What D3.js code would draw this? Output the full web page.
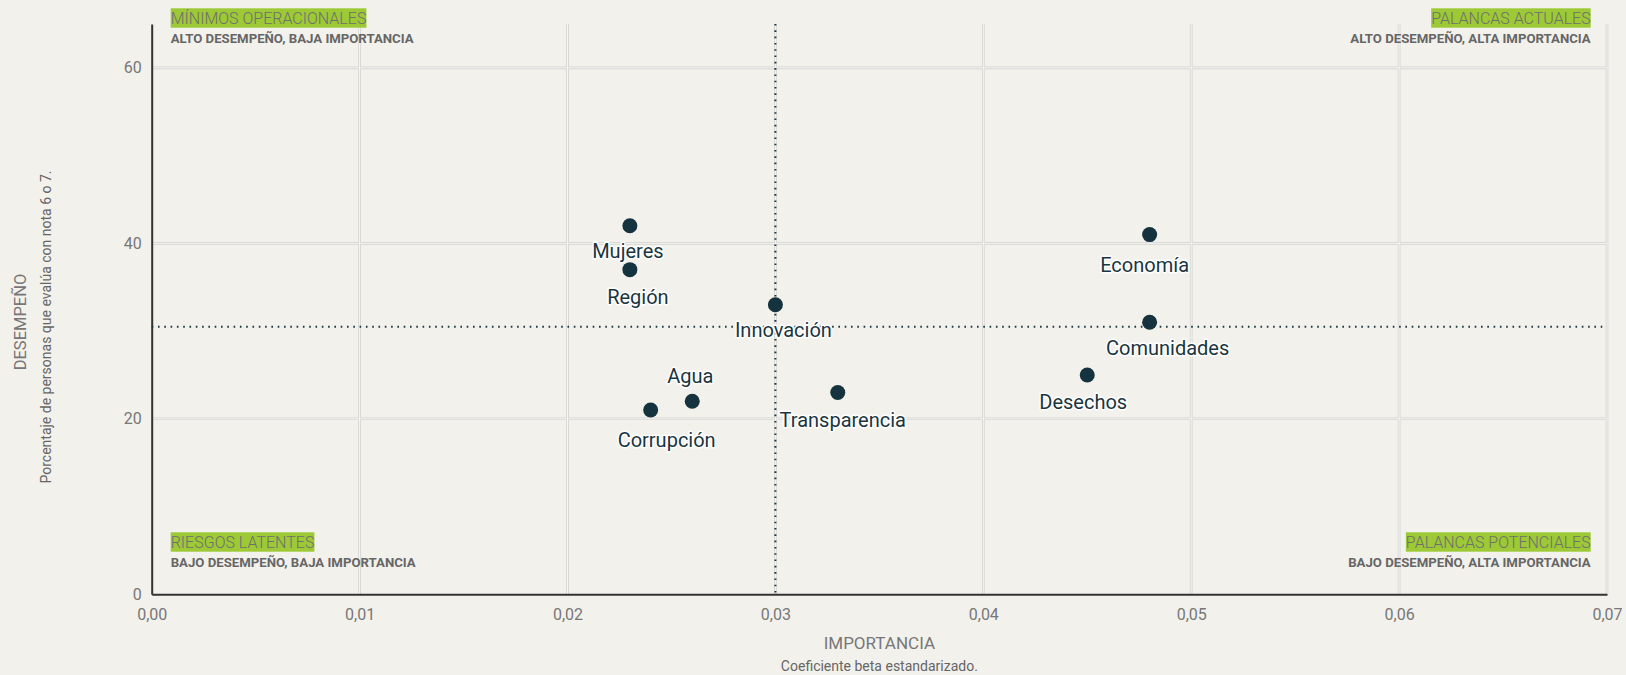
<!DOCTYPE html>
<html><head><meta charset="utf-8">
<script src="https://cdn.jsdelivr.net/npm/d3@7"></script>
<style>
html,body{margin:0;padding:0;background:#f3f1ec;}
svg{display:block;font-family:Roboto,"Noto Sans",sans-serif;}
</style></head>
<body><svg id="c" width="1626" height="675"></svg>
<script>
// ---- data ----
const categories = ["Mujeres","Región","Innovación","Agua","Corrupción","Transparencia","Economía","Comunidades","Desechos"];
const importancia = [0.023,0.023,0.030,0.026,0.024,0.033,0.048,0.048,0.045];
const desempeno   = [42,37,33,22,21,23,41,31,25];
const xTicks = [0,0.01,0.02,0.03,0.04,0.05,0.06,0.07];
const yTicks = [0,20,40,60];
const meanImportancia = 0.03;
const meanDesempeno = 30.5;
const quadrantTitles = ["MÍNIMOS OPERACIONALES","PALANCAS ACTUALES","RIESGOS LATENTES","PALANCAS POTENCIALES"];
const quadrantSubs = ["ALTO DESEMPEÑO, BAJA IMPORTANCIA","ALTO DESEMPEÑO, ALTA IMPORTANCIA","BAJO DESEMPEÑO, BAJA IMPORTANCIA","BAJO DESEMPEÑO, ALTA IMPORTANCIA"];
// label nudges (layout only)
const labelNudge = [[-2,25],[8,27],[8,25],[-2,-25],[16,30],[5,27],[-5,30],[18,26],[-4,27]];

const svg = d3.select("#c");
const L=151.7, R=1607, T=24, B=594.3;
const x = d3.scaleLinear().domain([0,0.07]).range([L,R]);
const y = d3.scaleLinear().domain([0,65]).range([B,T]);
const fmt = d => d3.format(".2f")(d).replace(".",",");

// grid
const g = svg.append("g");
const vx = xTicks.filter(d=>d>0);
const hy = yTicks.filter(d=>d>0);
g.selectAll("line.vg").data(vx).join("line").attr("x1",d=>x(d)).attr("x2",d=>x(d)).attr("y1",T).attr("y2",B)
 .attr("stroke","#d2d2d0").attr("stroke-width",2.6);
g.selectAll("line.hg").data(hy).join("line").attr("x1",L).attr("x2",R).attr("y1",d=>y(d)).attr("y2",d=>y(d))
 .attr("stroke","#d2d2d0").attr("stroke-width",2.6);
g.selectAll("line.vg2").data(vx).join("line").attr("x1",d=>x(d)).attr("x2",d=>x(d)).attr("y1",T).attr("y2",B)
 .attr("stroke","#f8f7f4").attr("stroke-width",1);
g.selectAll("line.hg2").data(hy).join("line").attr("x1",L).attr("x2",R).attr("y1",d=>y(d)).attr("y2",d=>y(d))
 .attr("stroke","#f8f7f4").attr("stroke-width",1);

// axes
const xAxis = d3.axisBottom(x).tickValues(xTicks).tickFormat(fmt).tickSize(0).tickPadding(14);
const gx = svg.append("g").attr("transform",`translate(0,${B})`).call(xAxis);
gx.select(".domain").attr("stroke","#333").attr("stroke-width",2);
gx.selectAll("text").attr("fill","#777").attr("font-size",16).attr("font-family","Roboto");
const yAxis = d3.axisLeft(y).tickValues(yTicks).tickSize(0).tickPadding(10);
const gy = svg.append("g").attr("transform",`translate(${L},0)`).call(yAxis);
gy.select(".domain").attr("stroke","#333").attr("stroke-width",2);
gy.selectAll("text").attr("fill","#777").attr("font-size",16).attr("font-family","Roboto");

// mean lines
svg.append("line").attr("x1",L).attr("x2",R).attr("y1",y(meanDesempeno)).attr("y2",y(meanDesempeno))
 .attr("stroke","#1b3640").attr("stroke-width",2).attr("stroke-dasharray","1.6,4.7");
svg.append("line").attr("x1",x(meanImportancia)).attr("x2",x(meanImportancia)).attr("y1",T).attr("y2",B)
 .attr("stroke","#1b3640").attr("stroke-width",2).attr("stroke-dasharray","1.6,4.7");

// axis titles
svg.append("text").attr("x",(L+R)/2).attr("y",649).attr("text-anchor","middle").attr("font-size",17).attr("fill","#777").text("IMPORTANCIA");
svg.append("text").attr("x",(L+R)/2).attr("y",671).attr("text-anchor","middle").attr("font-size",14).attr("fill","#666").text("Coeficiente beta estandarizado.");
svg.append("text").attr("transform","translate(26,322) rotate(-90)").attr("text-anchor","middle").attr("font-size",16.5).attr("fill","#777").text("DESEMPEÑO");
svg.append("text").attr("transform","translate(51,327) rotate(-90)").attr("text-anchor","middle").attr("font-size",14).attr("fill","#666").text("Porcentaje de personas que evalúa con nota 6 o 7.");

// quadrant labels
const qPos = [
  {ax:170.7, anchor:"start", top:8.3},
  {ax:1590.7, anchor:"end", top:8.3},
  {ax:170.7, anchor:"start", top:532.3},
  {ax:1590.7, anchor:"end", top:532.3}
];
quadrantTitles.forEach((t,i)=>{
  const p=qPos[i];
  const grp = svg.append("g");
  const rect = grp.append("rect").attr("fill","#9cc935");
  const tx = grp.append("text").attr("x",p.ax).attr("y",p.top+15.6).attr("text-anchor",p.anchor)
    .attr("font-size",16).attr("font-weight",300).attr("fill","#6e6e6e").text(t);
  const bb = tx.node().getBBox();
  rect.attr("x",bb.x).attr("y",p.top).attr("width",bb.width).attr("height",19.4);
  svg.append("text").attr("x",p.ax).attr("y",p.top+34.8).attr("text-anchor",p.anchor)
    .attr("font-size",13.2).attr("font-weight",700).attr("fill","#666").text(quadrantSubs[i]);
});

// points
const idx = d3.range(categories.length);
svg.append("g").selectAll("circle").data(idx).join("circle")
  .attr("cx",i=>x(importancia[i])).attr("cy",i=>y(desempeno[i])).attr("r",7.5).attr("fill","#15333e");
svg.append("g").selectAll("text").data(idx).join("text")
  .attr("x",i=>x(importancia[i])+labelNudge[i][0]).attr("y",i=>y(desempeno[i])+labelNudge[i][1]+7)
  .attr("text-anchor","middle").attr("font-size",20).attr("fill","#1a3540")
  .attr("stroke","#fff").attr("stroke-width",3).attr("stroke-linejoin","round").attr("paint-order","stroke")
  .text(i=>categories[i]);
</script></body></html>
